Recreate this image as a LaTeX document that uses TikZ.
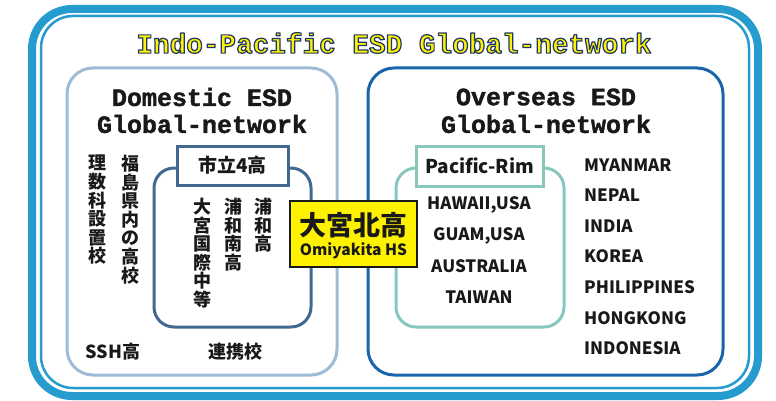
\documentclass[tikz,border=0pt]{standalone}
\usepackage{fontspec}
\newfontfamily\cjk{Noto Sans CJK JP}
\newfontfamily\mono{Liberation Mono}[BoldFeatures={FakeBold=1.5}]
\newfontfamily\monotitle{Liberation Mono}
\definecolor{outerblue}{RGB}{38,155,206}
\definecolor{domblue}{RGB}{157,188,216}
\definecolor{slate}{RGB}{65,105,145}
\definecolor{ovblue}{RGB}{25,100,170}
\definecolor{teal2}{RGB}{136,199,189}
\definecolor{ylw}{RGB}{255,242,0}
\definecolor{ink}{RGB}{25,25,25}
\newcommand{\outlinedtext}[1]{%
  \special{pdf:code q 1.2 w 1 j 0.118 0.216 0.412 RG 2 Tr}#1\special{pdf:code Q}}
\tikzset{
  txt/.style={inner sep=0pt, text=ink, font=\cjk\bfseries\fontsize{17}{17}\selectfont},
  vtxt/.style={inner sep=0pt, anchor=north, align=center, text=ink, font=\cjk\bfseries\fontsize{18}{18.6}\selectfont},
  headtxt/.style={inner sep=0pt, text=ink, font=\mono\bfseries\fontsize{25}{25}\selectfont},
  labelbox/.style={draw, line width=3pt, fill=white, inner sep=0pt},
}
\begin{document}
\begin{tikzpicture}[x=1pt,y=-1pt]
\useasboundingbox (0,0) rectangle (776,401);
\fill[white] (0,0) rectangle (776,401);
% outer frame
\draw[outerblue, line width=8pt, rounded corners=40pt] (32,9) rectangle (758,396);
\draw[outerblue, line width=2.5pt, rounded corners=32pt] (41,16) rectangle (749,388);
% title with outline
\node[inner sep=0pt, text=ylw, font=\monotitle\bfseries\fontsize{27.7}{28}\selectfont]
  (title) at (394,43) {\outlinedtext{Indo-Pacific ESD Global-network}};
% domestic box
\draw[domblue, line width=3pt, rounded corners=26pt] (67,68) rectangle (337,375);
\node[headtxt] (domA) at (202,97) {Domestic ESD};
\node[headtxt] (domB) at (202,124) {Global-network};
% overseas box
\draw[ovblue, line width=3pt, rounded corners=26pt] (368,68) rectangle (723,375);
\node[headtxt] (ovA) at (546,97) {Overseas ESD};
\node[headtxt] (ovB) at (546,124) {Global-network};
% inner group (市立4高)
\draw[slate, line width=3pt, rounded corners=20pt] (154,168) rectangle (311,327);
\node[labelbox, draw=slate, minimum width=111pt, minimum height=39pt,
  font=\cjk\bfseries\fontsize{19}{19}\selectfont, text=ink] (city) at (232.5,165.5) {市立4高};
% vertical texts
\node[vtxt] (v1) at (97,155) {理\\数\\科\\設\\置\\校};
\node[vtxt] (v2) at (130,155) {福\\島\\県\\内\\の\\高\\校};
\node[vtxt] (v3) at (202,198) {大\\宮\\国\\際\\中\\等};
\node[vtxt] (v4) at (233,198) {浦\\和\\南\\高};
\node[vtxt] (v5) at (263,198) {浦\\和\\高};
\node[txt, font=\cjk\bfseries\fontsize{18}{18}\selectfont] (ssh) at (113,352) {SSH高};
\node[txt, font=\cjk\bfseries\fontsize{18}{18}\selectfont] (renkei) at (235,352) {連携校};
% Pacific-Rim group
\draw[teal2, line width=3pt, rounded corners=20pt] (396,168) rectangle (564,327);
\node[labelbox, draw=teal2, minimum width=127pt, minimum height=40pt,
  font=\cjk\bfseries\fontsize{19}{19}\selectfont, text=ink] (rim) at (479.5,166) {Pacific-Rim};
\node[txt] (hawaii) at (479,205) {HAWAII,USA};
\node[txt] (guam) at (479,236) {GUAM,USA};
\node[txt] (aus) at (479,266) {AUSTRALIA};
\node[txt] (taiwan) at (479,297) {TAIWAN};
% country list
\node[txt, anchor=west] (c1) at (584,165) {MYANMAR};
\node[txt, anchor=west] (c2) at (584,195) {NEPAL};
\node[txt, anchor=west] (c3) at (584,226) {INDIA};
\node[txt, anchor=west] (c4) at (584,256) {KOREA};
\node[txt, anchor=west] (c5) at (584,287) {PHILIPPINES};
\node[txt, anchor=west] (c6) at (584,318) {HONGKONG};
\node[txt, anchor=west] (c7) at (584,348) {INDONESIA};
% central school
\node[draw=ink, line width=1.2pt, fill=ylw, minimum width=127pt, minimum height=66pt, inner sep=0pt] (omiya) at (353.5,234) {};
\node[txt, font=\cjk\bfseries\fontsize{27}{27}\selectfont] (omiyaJ) at (353.5,225) {大宮北高};
\node[txt, font=\cjk\bfseries\fontsize{15.5}{16}\selectfont] (omiyaE) at (353.5,251) {Omiyakita HS};
\end{tikzpicture}
\end{document}
